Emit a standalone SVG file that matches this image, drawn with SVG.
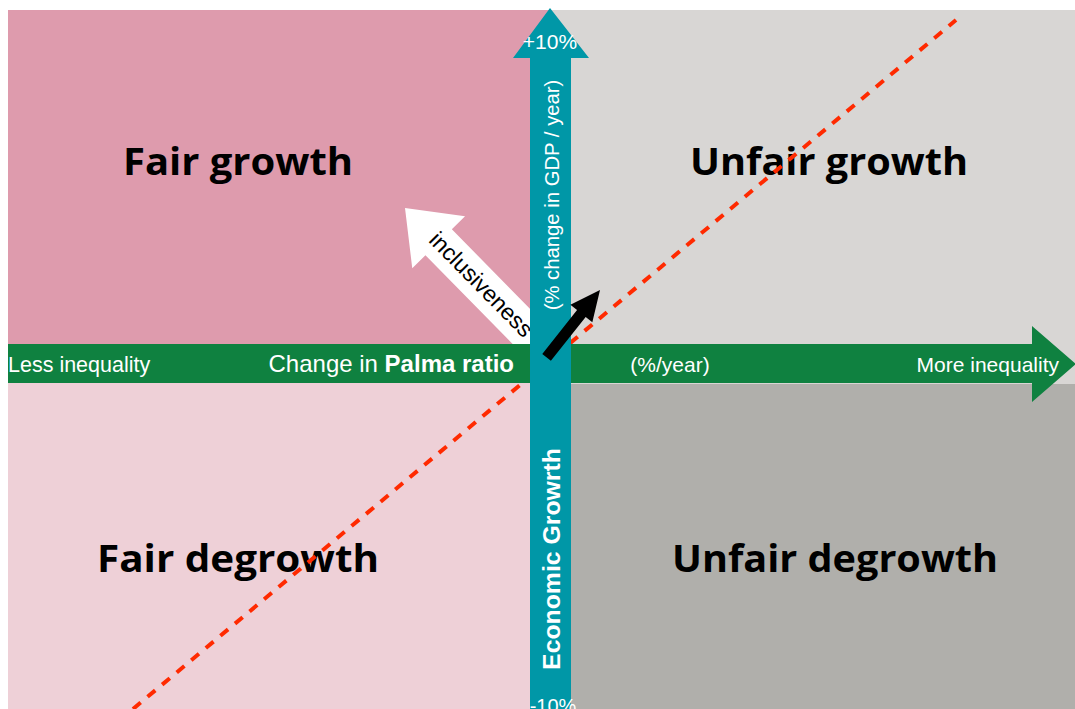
<svg xmlns="http://www.w3.org/2000/svg" width="1075" height="709" viewBox="0 0 1075 709">
  <style>
    .title { font-family: "Open Sans", "Liberation Sans", sans-serif; font-weight: 700; font-size: 37px; fill: #000; text-anchor: middle; }
    .axis { font-family: "Liberation Sans", Arial, sans-serif; fill: #fff; }
    .bold { font-weight: 700; }
  </style>
  <rect width="1075" height="709" fill="#ffffff"/>

  <!-- quadrants -->
  <g id="quadrants">
    <rect id="q-fair-growth" x="8" y="10" width="542" height="354" fill="#de9bad"/>
    <rect id="q-unfair-growth" x="550" y="10" width="525" height="374" fill="#d8d6d4"/>
    <rect id="q-fair-degrowth" x="8" y="364" width="542" height="345" fill="#eed0d7"/>
    <rect id="q-unfair-degrowth" x="550" y="384" width="525" height="325" fill="#b0afab"/>
  </g>

  <!-- quadrant labels -->
  <g id="label-fair-growth"><text class="title" x="238" y="175" textLength="230" lengthAdjust="spacingAndGlyphs">Fair growth</text></g>
  <g id="label-unfair-growth"><text class="title" x="829" y="175" textLength="278" lengthAdjust="spacingAndGlyphs">Unfair growth</text></g>
  <g id="label-fair-degrowth"><text class="title" x="238" y="572" textLength="282" lengthAdjust="spacingAndGlyphs">Fair degrowth</text></g>
  <g id="label-unfair-degrowth"><text class="title" x="835" y="572" textLength="326" lengthAdjust="spacingAndGlyphs">Unfair degrowth</text></g>

  <!-- inclusiveness arrow -->
  <g id="inclusiveness" transform="translate(405,208) rotate(45.5)">
    <polygon points="0,0 48,-37 48,-18.5 205,-18.5 205,18.5 48,18.5 48,37" fill="#ffffff"/>
    <text x="108" y="7" text-anchor="middle" font-family="Liberation Sans, Arial, sans-serif" font-size="23" fill="#000">inclusiveness</text>
  </g>

  <g id="connectors">
    <!-- equal-share reference line -->
    <line x1="133" y1="709" x2="956" y2="20" stroke="#ff2a00" stroke-width="4" stroke-dasharray="10 9"/>

    <!-- horizontal axis: change in Palma ratio -->
    <polygon id="palma-axis" points="8,344 1032,344 1032,326 1076,364 1032,402 1032,383 8,383" fill="#0f8140"/>

    <!-- vertical axis: economic growth -->
    <polygon id="growth-axis" points="530,709 530,58 513,58 550,8 589,58 571,58 571,709" fill="#0097a7"/>

    <!-- current trajectory -->
    <g transform="translate(600,290) rotate(128.4)">
      <polygon points="0,0 30,-14 30,-5.5 86,-5.5 86,5.5 30,5.5 30,14" fill="#000"/>
    </g>
  </g>

  <!-- axis labels -->
  <g id="axis-labels">
    <text class="axis" x="8" y="372" style="font-size:21.5px">Less inequality</text>
    <text class="axis" x="514" y="372" text-anchor="end" style="font-size:24px">Change in <tspan class="bold">Palma ratio</tspan></text>
    <text class="axis" x="670" y="372" text-anchor="middle" style="font-size:21px">(%/year)</text>
    <text class="axis" x="1059" y="372" text-anchor="end" style="font-size:21px">More inequality</text>
    <text class="axis" x="550" y="49" text-anchor="middle" style="font-size:21px">+10%</text>
    <text class="axis" x="553" y="713" text-anchor="middle" style="font-size:20px">-10%</text>
    <text class="axis" transform="translate(559,195) rotate(-90)" text-anchor="middle" style="font-size:20.3px">(% change in GDP / year)</text>
    <text class="axis bold" transform="translate(560,559) rotate(-90)" text-anchor="middle" style="font-size:24.8px">Economic Growrth</text>
  </g>
</svg>
